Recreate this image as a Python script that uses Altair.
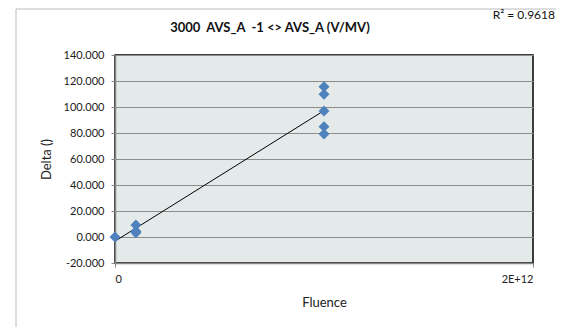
import altair as alt
import pandas as pd

fluence = [0, 1e11, 1e11, 1e11, 1e12, 1e12, 1e12, 1e12, 1e12]
delta = [0.0, 9.2, 4.5, 3.2, 115.6, 109.8, 96.9, 84.9, 79.2]
title_text = "3000\u00a0\u00a0AVS_A\u00a0\u00a0-1 <> AVS_A (V/MV)"
r2_text = "R² = 0.9618"
y_ticks = [-20, 0, 20, 40, 60, 80, 100, 120, 140]
x_ticks = [0, 2e12]

df = pd.DataFrame({"Fluence": fluence, "Delta": delta})
FONT = "Lato"

x_enc = alt.X("Fluence:Q", scale=alt.Scale(domain=[0, 2e12], nice=False),
              axis=alt.Axis(values=x_ticks, title="Fluence", grid=False,
                            labelExpr="datum.value == 0 ? '0' : '2E+12'",
                            labelOverlap=False,
                            domainColor="#868686", domainWidth=1.5,
                            tickColor="#868686", tickSize=4, labelPadding=6,
                            labelFontSize=11, labelColor="#222", labelFont=FONT,
                            titleFont=FONT, titleFontSize=13, titleFontWeight="normal",
                            titleColor="#222", titlePadding=12))
y_enc = alt.Y("Delta:Q", scale=alt.Scale(domain=[-20, 140], nice=False),
              axis=alt.Axis(values=y_ticks, title="Delta ()",
                            labelExpr="(datum.value < 0 ? '-' : '') + format(abs(datum.value), '.3f')",
                            labelOverlap=False,
                            gridColor="#8c8c8c", gridWidth=1.2,
                            domainColor="#868686", domainWidth=1.5,
                            tickColor="#868686", tickSize=4, labelPadding=7,
                            labelFontSize=11, labelColor="#222", labelFont=FONT,
                            titleFont=FONT, titleFontSize=13, titleFontWeight="normal",
                            titleColor="#222", titlePadding=10))

points = alt.Chart(df).mark_point(shape="diamond", filled=True, size=120,
                                  color="#4F81BD", opacity=1).encode(x=x_enc, y=y_enc)

line = alt.Chart(df).transform_regression("Fluence", "Delta").mark_line(
    color="black", strokeWidth=1).encode(x=x_enc, y=y_enc)

one = alt.Data(values=[{}])
title = alt.Chart(one).mark_text(font=FONT, fontSize=13, fontWeight="bold",
                                 color="#111", align="center", baseline="middle").encode(
    x=alt.value(155), y=alt.value(-27), text=alt.value(title_text))
r2 = alt.Chart(one).mark_text(font=FONT, fontSize=12, color="#111",
                              align="right", baseline="middle").encode(
    x=alt.value(440), y=alt.value(-40), text=alt.value(r2_text))
border = alt.Chart(one).mark_rect(fill=None, stroke="#bcbcbc", strokeWidth=1).encode(
    x=alt.value(-99), x2=alt.value(460), y=alt.value(-46), y2=alt.value(276))

chart = alt.layer(border, line, points, title, r2).properties(
    width=418, height=208,
    autosize=alt.AutoSizeParams(type="none"),
    padding={"left": 107, "top": 47, "right": 23, "bottom": 64},
    background="white",
).configure_view(fill="#E4EAEA", stroke="#000", strokeWidth=1.5)

chart.save("out.html", embed_options={"renderer": "svg", "actions": False})
